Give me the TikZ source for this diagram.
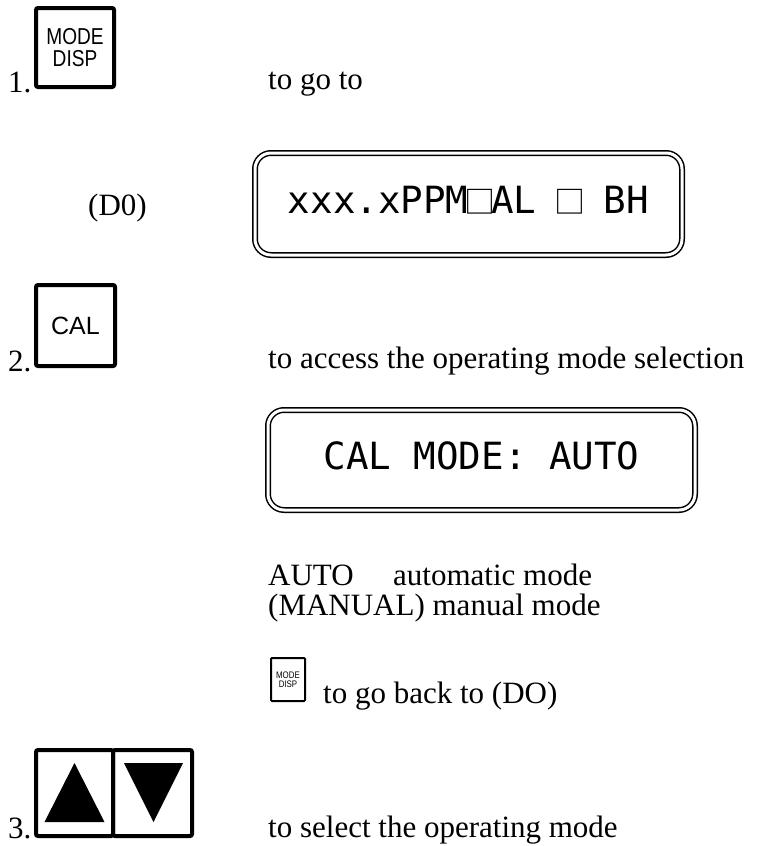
\documentclass[tikz,border=0pt]{standalone}
\usepackage{fontspec}
\setmainfont{Liberation Serif}
\setsansfont{Liberation Sans}
\setmonofont{DejaVu Sans Mono}
\newfontfamily\narrowsans[FakeStretch=0.83]{Liberation Sans}
\newfontfamily\cjk{Noto Sans CJK SC}
\newcommand\lcdsq{\makebox[0.602em][c]{\fontsize{31}{31}\cjk □}}
\begin{document}
\begin{tikzpicture}[x=1pt,y=-1pt,
  lbl/.style={anchor=base west,inner sep=0pt,font=\fontsize{31}{31}\selectfont},
  keybox/.style={draw,line width=4pt,rounded corners=2pt,inner sep=0pt,font=\sffamily,align=center},
  smallkey/.style={draw,line width=2pt,rounded corners=1pt,inner sep=0pt,font=\narrowsans\fontsize{9.5}{9}\selectfont,align=center},
  lcd/.style={draw,double,double distance=3pt,line width=1.5pt,rounded corners=16pt,inner sep=0pt,
    font=\ttfamily\fontsize{37.5}{37.5}\selectfont,text height=27pt,text depth=9pt}]
\useasboundingbox (0,0) rectangle (758,846);

% step 1
\node[lbl] (n1) at (8,92) {1.};
\node[keybox,minimum width=78pt,minimum height=79pt,font=\narrowsans\fontsize{23}{22}\selectfont] (k1) at (75,47.5) {MODE\\DISP};
\node[lbl] (t1) at (268,89) {to go to};
\node[lbl] (d0) at (88,215) {(D0)};
\node[lcd,minimum width=427pt,minimum height=102pt] (lcd1) at (468.5,204) {xxx.xPPM\lcdsq AL \lcdsq\ BH};

% step 2
\node[lbl] (n2) at (8,371) {2.};
\node[keybox,minimum width=79pt,minimum height=81pt,font=\sffamily\fontsize{25}{25}\selectfont] (k2) at (75.5,325.5) {CAL};
\node[lbl] (t2) at (268,368) {to access the operating mode selection};
\node[lcd,minimum width=427pt,minimum height=100pt] (lcd2) at (481.5,460) {CAL MODE: AUTO};
\node[lbl] (auto) at (268,585) {AUTO};
\node[lbl] (autod) at (393,585) {automatic mode};
\node[lbl] (man) at (268,615) {(MANUAL) manual mode};
\node[smallkey,minimum width=34pt,minimum height=43pt] (k4) at (288,679.5) {MODE\\DISP};
\node[lbl] (back) at (323,703) {to go back to (DO)};

% step 3
\node[lbl] (n3) at (8,838) {3.};
\node[keybox,minimum width=77pt,minimum height=86pt] (kup) at (74.5,793) {};
\node[keybox,minimum width=79pt,minimum height=86pt] (kdn) at (152.5,793) {};
\fill ([shift={(-30,29)}]kup.center) -- ([shift={(30,29)}]kup.center) -- ([shift={(0,-30)}]kup.center) -- cycle;
\fill ([shift={(-28.5,-30)}]kdn.center) -- ([shift={(30.5,-30)}]kdn.center) -- ([shift={(1,29)}]kdn.center) -- cycle;
\node[lbl] (t3) at (268,837) {to select the operating mode};
\end{tikzpicture}
\end{document}
